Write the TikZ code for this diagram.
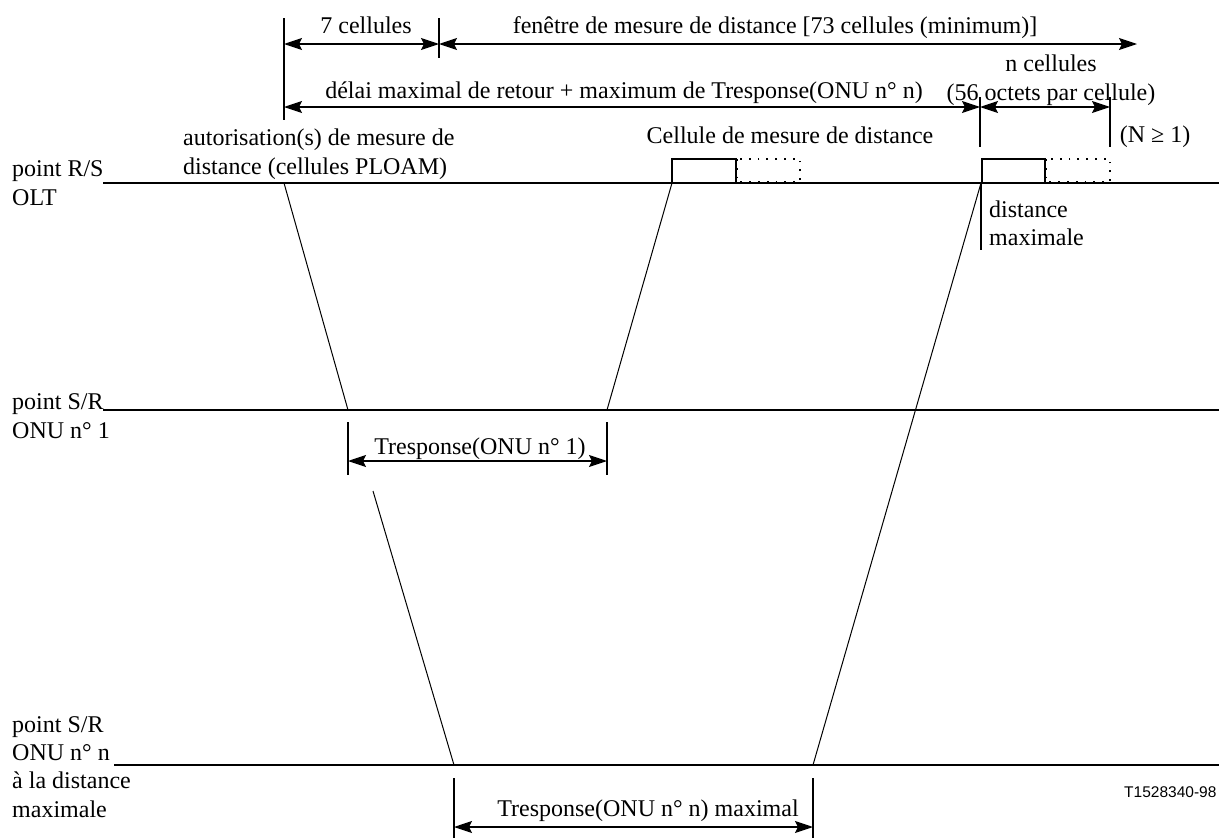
\documentclass[tikz,border=0pt]{standalone}
\usepackage{fontspec}
\setmainfont{Liberation Serif}
\newfontfamily\figsans{Liberation Sans}
\usetikzlibrary{arrows.meta,calc,positioning}
\tikzset{
    myline/.style={line width=1.2pt,draw=black},
    mytick/.style={line width=1.1pt,draw=black},
    mydim/.style={line width=1.2pt,draw=black,
        {Stealth[length=18pt,width=12pt,inset=3pt]}-{Stealth[length=18pt,width=12pt,inset=3pt]}},
    mycell/.style={draw=black,line width=1.2pt},
    mydotcell/.style={draw=black,line width=2pt,dash pattern=on 1.8pt off 7pt},
    every node/.style={font=\fontsize{24}{29}\selectfont,inner sep=0pt,anchor=base}
}

\begin{document}
\begin{tikzpicture}[x=1pt,y=-1pt]
  \useasboundingbox (0,0) rectangle (1219,838);

  % lignes de temps
  \coordinate (L0a) at (103,183);  \coordinate (L0b) at (1219,183);
  \coordinate (L1a) at (103,410);  \coordinate (L1b) at (1219,410);
  \coordinate (L2a) at (114,765);  \coordinate (L2b) at (1219,765);
  \draw[myline] (L0a) -- (L0b);
  \draw[myline] (L1a) -- (L1b);
  \draw[myline] (L2a) -- (L2b);

  % repères verticaux
  \coordinate (V0a) at (284,18);   \coordinate (V0b) at (284,120);
  \coordinate (V1a) at (439,18);   \coordinate (V1b) at (439,58);
  \coordinate (V2a) at (980,97);   \coordinate (V2b) at (980,147);
  \coordinate (V3a) at (1110,97);  \coordinate (V3b) at (1110,147);
  \coordinate (V4a) at (981,183);  \coordinate (V4b) at (981,250);
  \coordinate (V5a) at (348,422);  \coordinate (V5b) at (348,475);
  \coordinate (V6a) at (607,422);  \coordinate (V6b) at (607,475);
  \coordinate (V7a) at (454,778);  \coordinate (V7b) at (454,840);
  \coordinate (V8a) at (813,778);  \coordinate (V8b) at (813,840);
  \foreach \i in {0,...,8}{
    \draw[mytick] (V\i a) -- (V\i b);
  }

  % cotes
  \coordinate (A0) at (284,44);  \coordinate (A1) at (439,44);  \coordinate (A2) at (1137,44);
  \coordinate (B0) at (284,107); \coordinate (B1) at (980,107); \coordinate (B2) at (1110,107);
  \coordinate (R0) at (348,461); \coordinate (R1) at (607,461);
  \coordinate (S0) at (454,827); \coordinate (S1) at (813,827);
  \draw[mydim] (A0) -- (A1);
  \draw[mydim] (A1) -- (A2);
  \draw[mydim] (B0) -- (B1);
  \draw[mydim] (B1) -- (B2);
  \draw[mydim] (R0) -- (R1);
  \draw[mydim] (S0) -- (S1);

  % trajets
  \coordinate (D0) at (284,183); \coordinate (D1) at (348,410);
  \coordinate (D2) at (672,183); \coordinate (D3) at (607,410);
  \coordinate (D4) at (981,183); \coordinate (D5) at (813,765);
  \coordinate (D6) at (373,491); \coordinate (D7) at (454,765);
  \draw[line width=1pt] (D0) -- (D1);
  \draw[line width=1pt] (D2) -- (D3);
  \draw[line width=1pt] (D4) -- (D5);
  \draw[line width=1pt] (D6) -- (D7);

  % cellules
  \draw[mycell] (672,159) rectangle (736,183);
  \draw[mydotcell] (737,159) rectangle (800,182);
  \draw[mycell] (982,159) rectangle (1045,183);
  \draw[mydotcell] (1046,159) rectangle (1110,182);

  % textes des cotes
  \node (t7)   at (366,33)  {7 cellules};
  \node (tfen) at (775,33)  {fenêtre de mesure de distance [73 cellules (minimum)]};
  \node (tdel) at (624,98)  {délai maximal de retour + maximum de Tresponse(ONU n° n)};
  \node (tnc)  at (1051,71) {n cellules};
  \node (toct) at (1051,100) {(56 octets par cellule)};
  \node (tN)   at (1155,142) {(N ≥ 1)};
  \node (tcel) at (790,143) {Cellule de mesure de distance};
  \node (tr1)  at (480,454) {Tresponse(ONU n° 1)};
  \node (trn)  at (648,816) {Tresponse(ONU n° n) maximal};

  % textes libres
  \node[anchor=base west] (aut1) at (183,145) {autorisation(s) de mesure de};
  \node[anchor=base west] (aut2) at (183,174) {distance (cellules PLOAM)};
  \node[anchor=base west] (dm1)  at (989,217) {distance};
  \node[anchor=base west] (dm2)  at (989,245) {maximale};

  % points de référence
  \node[anchor=base west] (p0a) at (12,176) {point R/S};
  \node[anchor=base west] (p0b) at (12,205) {OLT};
  \node[anchor=base west] (p1a) at (12,409) {point S/R};
  \node[anchor=base west] (p1b) at (12,438) {ONU n° 1};
  \node[anchor=base west] (p2a) at (12,732) {point S/R};
  \node[anchor=base west] (p2b) at (12,760) {ONU n° n};
  \node[anchor=base west] (p2c) at (12,788) {à la distance};
  \node[anchor=base west] (p2d) at (12,817) {maximale};

  \node[anchor=base west,font=\figsans\fontsize{15.5}{18}\selectfont] (ref) at (1124,797) {T1528340-98};
\end{tikzpicture}
\end{document}
